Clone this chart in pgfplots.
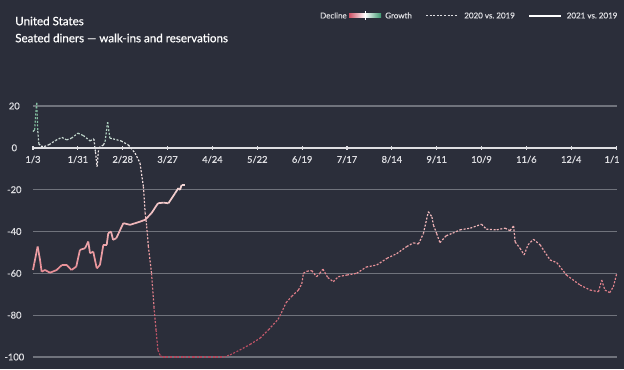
\documentclass[border=0pt]{standalone}
\usepackage{pgfplots}
\pgfplotsset{compat=1.18}
\usepackage{fontspec}
\setmainfont{Lato}
\newfontfamily\semib[FakeBold=0.6]{Lato}
\definecolor{bg}{RGB}{43,46,58}
\definecolor{gridc}{RGB}{112,115,124}
\definecolor{txt}{RGB}{222,222,226}
\definecolor{decl}{RGB}{205,80,100}
\definecolor{grow}{RGB}{60,150,110}
\begin{document}
\begin{tikzpicture}
\useasboundingbox[fill=bg] (0,0) rectangle (468pt,276.75pt);
\begin{axis}[
 at={(24.75pt,9pt)}, anchor=south west, scale only axis,
 width=437.8pt, height=188.25pt,
 xmin=0, xmax=364.4, ymin=-100, ymax=20,
 clip=false,
 axis x line=middle, axis y line=left,
 y axis line style={draw=none},
 x axis line style={-, draw=txt, line width=1.1pt},
 xtick={0,28,...,364},
 xticklabels={1/3,1/31,2/28,3/27,4/24,5/22,6/19,7/17,8/14,9/11,10/9,11/6,12/4,1/1\kern6pt},
 ytick={-100,-80,...,20},
 ymajorgrids, grid style={gridc, line width=1pt},
 ytick style={draw=none},
 xtick style={draw=txt, line width=0.8pt},
 major tick length=3pt,
 tick align=center,
 hide obscured x ticks=false, hide obscured y ticks=false,
 ticklabel style={font=\semib\fontsize{7}{9}\selectfont, text=txt},
 yticklabel style={anchor=center, xshift=-12.5pt},
 xticklabel style={yshift=-1pt},
 /pgf/number format/assume math mode=true,
 colormap={dw}{rgb255(0cm)=(180,70,92); rgb255(2cm)=(232,140,148); rgb255(4cm)=(245,212,212); rgb255(5cm)=(230,230,232); rgb255(6cm)=(90,175,130)},
 point meta min=-100, point meta max=20,
]
% 2020 vs 2019
\addplot[mesh, point meta=y, line width=0.9pt, dash pattern=on 1.5pt off 1.2pt] coordinates {
(0,7.8) (1,8.6) (2.3,21.5) (3,8) (3.6,2) (5,0.8) (7,0.6) (10,1.5) (14,3.5) (18,5) (21,3.8) (24,4.6) (28,7) (31.4,5.9) (35.6,3.3) (38,4.3) (39,-2) (40,-9) (41,0) (44,1.4) (45,3) (46.6,12.3) (48,4.6) (50,4.3) (55,3.3) (59.5,1.4) (63.7,-2.5) (66.8,-7.3) (68.9,-18.5) (70,-31) (71,-37.6) (72,-47) (74,-60) (75.5,-76) (76.8,-87) (78,-96.7) (79.5,-99.5) (81,-100) (90,-100) (100,-100) (110,-100) (119,-100) (123,-99) (129,-96.7) (135.5,-94) (141.7,-91) (147,-87) (153,-82) (155,-79) (158,-74) (161.5,-71) (165.7,-68) (167.8,-65) (168.8,-60) (171,-59) (174,-58.7) (177,-61.6) (179,-60) (181,-58) (184,-62) (187.5,-64) (190.6,-61.6) (196,-60.8) (202,-60) (208,-57) (214.6,-56) (221,-52.8) (227,-50.6) (233.3,-47.2) (237.5,-45.4) (240.6,-46) (243.7,-41) (246.8,-30.5) (249,-33) (250,-37) (252,-41) (254,-45.3) (258,-42) (262,-40.8) (266.6,-39.2) (273,-38.4) (280,-36.5) (283,-38.9) (289.5,-39.2) (294.7,-38.4) (297.8,-39.6) (300,-37.3) (301,-45) (304,-48) (306.6,-51.2) (309,-46.4) (312.4,-43.7) (316.6,-46.4) (322.8,-53.6) (327,-54.9) (333,-60.8) (341.5,-65.6) (347.8,-68) (353,-68.8) (355,-63.2) (357,-68) (360,-69.2) (362.3,-66.4) (364.4,-60)
};
% 2021 vs 2019
\addplot[mesh, point meta=y, line width=1.3pt, line join=round] coordinates {
(0,-58.4) (0.8,-55.2) (2.9,-47.2) (4.4,-53.6) (5.4,-59.2) (7.5,-58.4) (10.6,-59.7) (14.8,-58.4) (18,-56) (21,-56) (24,-58.4) (27,-56.8) (29.3,-48.8) (32.5,-48) (34.5,-44.8) (35.6,-50.4) (37.6,-49.6) (39.8,-57.6) (41.8,-56) (43.9,-46.4) (46,-46.4) (47,-40.8) (48.7,-40) (50,-44) (52,-43.2) (56.4,-36) (60.6,-36.8) (66.8,-35.3) (70,-34.4) (74,-31.2) (78,-26.5) (81.4,-26.2) (84.5,-26.5) (88.7,-21.7) (90.7,-19.3) (91.8,-20.1) (92.8,-17.7) (95,-17.7)
};
\end{axis}
\begin{scope}[x=0.75pt,y=-0.75pt,shift={(0,276.75pt)}]
\node[anchor=west, inner sep=0, text=white, font=\semib\fontsize{8.7}{10}\selectfont] at (15,21) {United States};
\node[anchor=west, inner sep=0, text=white, font=\semib\fontsize{8.7}{10}\selectfont] at (15,38) {Seated diners — walk-ins and reservations};
\begin{scope}[every node/.style={inner sep=0, text=txt, font=\semib\fontsize{6}{7}\selectfont}]
\node[anchor=east] at (347,15.5) {Decline};
\shade[left color=decl, right color=grow, middle color=white] (349,13.5) rectangle (381,17.5);
\draw[white, line width=0.8pt] (365.5,11) -- (365.5,20);
\node[anchor=west] at (385,15.5) {Growth};
\draw[txt, dash pattern=on 1.5pt off 1.2pt, line width=0.8pt] (426,15.5) -- (457,15.5);
\node[anchor=west] at (464,15.5) {2020 vs.\ 2019};
\draw[white, line width=1.5pt] (529,15.5) -- (561,15.5);
\node[anchor=west] at (566.5,15.5) {2021 vs.\ 2019};
\end{scope}
\end{scope}
\end{tikzpicture}
\end{document}
